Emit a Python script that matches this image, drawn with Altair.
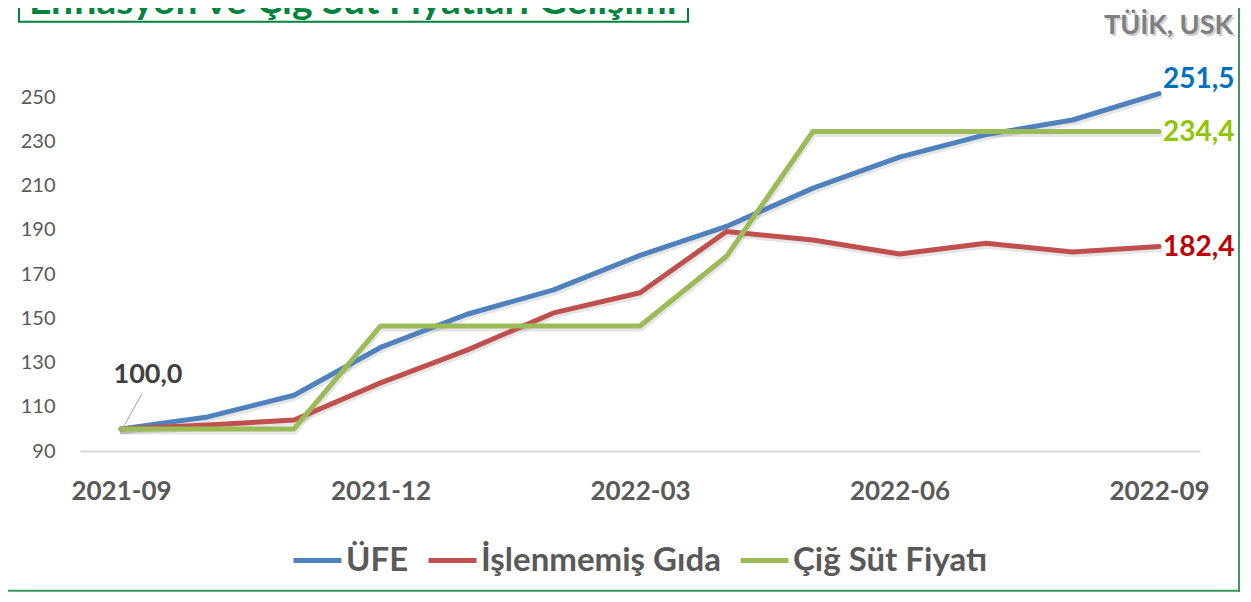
import altair as alt
import pandas as pd

months = ["2021-09", "2021-10", "2021-11", "2021-12", "2022-01", "2022-02", "2022-03",
          "2022-04", "2022-05", "2022-06", "2022-07", "2022-08", "2022-09"]
ufe = [100.0, 105.4, 115.2, 136.8, 151.8, 162.8, 178.4, 191.5, 208.8, 222.8, 233.0, 239.6, 251.5]
islenmemis_gida = [100.0, 101.8, 104.0, 120.8, 135.6, 152.4, 161.5, 189.2, 185.4, 179.0, 183.9, 179.9, 182.4]
cig_sut = [100.0, 100.0, 100.0, 146.5, 146.5, 146.5, 146.5, 178.0, 234.4, 234.4, 234.4, 234.4, 234.4]

series_names = ["ÜFE", "İşlenmemiş Gıda", "Çiğ Süt Fiyatı"]
series_colors = ["#4F81BD", "#C0504D", "#9BBB59"]
label_colors = ["#0070C0", "#C00000", "#92C500"]
x_tick_labels = ["2021-09", "2021-12", "2022-03", "2022-06", "2022-09"]
y_ticks = [90, 110, 130, 150, 170, 190, 210, 230, 250]
title_text = "Enflasyon ve Çiğ Süt Fiyatları Gelişimi"
source_text = "TÜİK, USK"

FONT = "Lato"
GRAY = "#595959"

rows = []
for name, vals in zip(series_names, [ufe, islenmemis_gida, cig_sut]):
    for m, v in zip(months, vals):
        rows.append({"month": m, "series": name, "value": v})
df = pd.DataFrame(rows)

W, H = 1120, 398.25
XSCALE = alt.Scale(type="point", padding=0.474)

x_enc = alt.X("month:O", sort=months, scale=XSCALE,
              axis=alt.Axis(values=x_tick_labels, labelAngle=0, title=None,
                            ticks=False, tickSize=0, domain=True,
                            domainColor="#D9D9D9", domainWidth=2,
                            labelPadding=27, labelFontSize=26, labelFont=FONT,
                            labelFontWeight="bold", labelColor=GRAY, grid=False))
y_enc = alt.Y("value:Q", scale=alt.Scale(domain=[90, 270], nice=False, zero=False),
              axis=alt.Axis(values=y_ticks, title=None, grid=False, domain=False,
                            ticks=False, tickSize=0, labelPadding=25,
                            labelFontSize=20, labelFont=FONT, labelColor=GRAY))

base = alt.Chart(df)

shadow = base.mark_line(strokeWidth=5, color="#000000", opacity=0.10,
                        xOffset=1, yOffset=3, strokeCap="round", strokeJoin="round").encode(
    x=x_enc, y=y_enc, detail="series:N")

lines = base.mark_line(strokeWidth=5, strokeCap="round", strokeJoin="round").encode(
    x=x_enc, y=y_enc,
    color=alt.Color("series:N", sort=series_names,
                    scale=alt.Scale(domain=series_names, range=series_colors),
                    legend=alt.Legend(title=None, orient="none", direction="horizontal",
                                      legendX=211, legendY=481,
                                      symbolType="stroke", symbolStrokeWidth=5,
                                      symbolSize=2304, labelFontSize=33,
                                      labelFont=FONT, labelFontWeight="bold",
                                      labelColor=GRAY, columnPadding=9,
                                      labelOffset=2, labelLimit=0)),
    order=alt.Order("month:O"))

end_labels = []
dys = [-14, 1, 1]
for name, col, dy in zip(series_names, label_colors, dys):
    end_labels.append(
        base.transform_filter(
            (alt.datum.series == name) & (alt.datum.month == months[-1])
        ).transform_calculate(
            lab="replace(format(datum.value, '.1f'), '.', ',')"
        ).mark_text(align="left", baseline="middle", dx=4, dy=dy, fontSize=28,
                    font=FONT, fontWeight="bold", color=col).encode(
            x=alt.X("month:O", sort=months, scale=XSCALE),
            y=alt.Y("value:Q"), text="lab:N"))

start_label = base.transform_filter(
    (alt.datum.series == series_names[0]) & (alt.datum.month == months[0])
).transform_calculate(
    lab="replace(format(datum.value, '.1f'), '.', ',')"
).mark_text(align="center", baseline="middle", dx=27, dy=-54, fontSize=27,
            font=FONT, fontWeight="bold", color="#404040").encode(
    x=alt.X("month:O", sort=months, scale=XSCALE),
    y=alt.Y("value:Q"), text="lab:N")

leader = base.transform_filter(
    (alt.datum.series == series_names[0]) & (alt.datum.month == months[0])
).mark_rule(color="#A6A6A6", strokeWidth=1, xOffset=3, yOffset=-3,
            x2Offset=21, y2Offset=-35).encode(
    x=alt.X("month:O", sort=months, scale=XSCALE),
    x2=alt.X2("month"), y=alt.Y("value:Q"), y2=alt.Y2("value"))

tdf = pd.DataFrame({"t": [title_text]})
title_box = alt.Chart(tdf).mark_rect(fill="white", stroke="#00843D", strokeWidth=2).encode(
    x=alt.value(-61), x2=alt.value(608), y=alt.value(-70), y2=alt.value(-31))
title_txt = alt.Chart(tdf).mark_text(align="left", baseline="alphabetic", fontSize=39,
                                     font=FONT, fontWeight="bold", color="#00843D").encode(
    x=alt.value(-51), y=alt.value(-39), text="t:N")

sdf = pd.DataFrame({"s": [source_text]})
src_shadow = alt.Chart(sdf).mark_text(align="right", baseline="middle", fontSize=27,
                                      font=FONT, fontWeight="bold", color="#CFCFCF").encode(
    x=alt.value(1155), y=alt.value(-25), text="s:N")
src_txt = alt.Chart(sdf).mark_text(align="right", baseline="middle", fontSize=27,
                                   font=FONT, fontWeight="bold", color="#7F7F7F").encode(
    x=alt.value(1153), y=alt.value(-27), text="s:N")

border_right = alt.Chart(tdf).mark_rule(color="#3A9A5B", strokeWidth=2).encode(
    x=alt.value(1159), y=alt.value(-60), y2=alt.value(540))
border_bottom = alt.Chart(tdf).mark_rule(color="#3A9A5B", strokeWidth=2).encode(
    x=alt.value(-90), x2=alt.value(1160), y=alt.value(538))

chart = alt.layer(
    shadow, lines, leader, start_label, *end_labels,
    title_box, title_txt, src_shadow, src_txt, border_right, border_bottom
).properties(
    width=W, height=H,
    autosize=alt.AutoSizeParams(type="none"),
    padding={"left": 72, "top": 44.75, "right": 41, "bottom": 141},
).configure(background="white", view=alt.ViewConfig(stroke=None))

chart.save("out.html", embed_options={"renderer": "svg", "actions": False})
